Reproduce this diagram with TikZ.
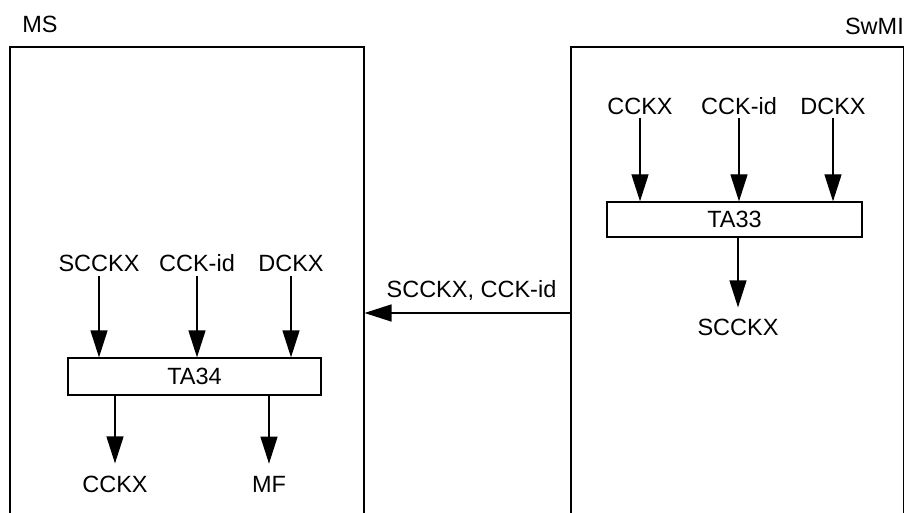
\documentclass[tikz,border=0pt]{standalone}
\usepackage{fontspec}
\setmainfont{Liberation Sans}
\usetikzlibrary{arrows.meta}
\begin{document}
\begin{tikzpicture}[x=1pt,y=-1pt,
  font=\fontsize{23.5}{28}\selectfont,
  frame/.style={line width=1.3pt},
  lbl/.style={inner sep=0pt,anchor=base},
  tabox/.style={draw,line width=1.3pt,inner sep=0pt,minimum width=#1},
  arr/.style={line width=1.3pt,-{Triangle[length=27pt,width=17pt]}}]
\useasboundingbox (0,0) rectangle (905,513);
% frames (open at bottom)
\draw[frame] (10,513) -- (10,47) -- (364,47) -- (364,513);
\draw[frame] (571,513) -- (571,47) -- (903.5,47) -- (903.5,513);
\node[lbl] (ms) at (40,32.5) {MS};
\node[lbl,anchor=base east] (swmi) at (904,35) {SwMI};
% SwMI side
\node[lbl] (s1) at (640,115) {CCKX};
\node[lbl] (s2) at (739,115) {CCK-id};
\node[lbl] (s3) at (833,115) {DCKX};
\node[draw,line width=1.3pt,inner sep=0pt,minimum width=255pt,minimum height=35pt] (ta33) at (734.5,219.5) {TA33};
\node[lbl] (s4) at (738,335) {SCCKX};
\draw[arr] ([yshift=-3pt]s1.base) -- (s1.base |- ta33.north);
\draw[arr] ([yshift=-3pt]s2.base) -- (s2.base |- ta33.north);
\draw[arr] ([yshift=-3pt]s3.base) -- (s3.base |- ta33.north);
\draw[arr] (ta33.south -| s4.base) -- ([yshift=11pt]s4.north);
% middle
\coordinate (swL) at (571,313);
\coordinate (msR) at (364.5,313);
\draw[arr] (swL) -- (msR);
\node[lbl] (mid) at (471.5,298) {SCCKX, CCK-id};
% MS side
\node[lbl] (m1) at (99,272) {SCCKX};
\node[lbl] (m2) at (197,272) {CCK-id};
\node[lbl] (m3) at (291,272) {DCKX};
\node[draw,line width=1.3pt,inner sep=0pt,minimum width=253pt,minimum height=37pt] (ta34) at (194.5,376.5) {TA34};
\node[lbl] (o1) at (115,492) {CCKX};
\node[lbl] (o2) at (269,492) {MF};
\draw[arr] ([yshift=-4pt]m1.base) -- (m1.base |- ta34.north);
\draw[arr] ([yshift=-4pt]m2.base) -- (m2.base |- ta34.north);
\draw[arr] ([yshift=-4pt]m3.base) -- (m3.base |- ta34.north);
\draw[arr] (ta34.south -| o1.base) -- ([yshift=12pt]o1.north);
\draw[arr] (ta34.south -| o2.base) -- ([yshift=12pt]o2.north);
\end{tikzpicture}
\end{document}
